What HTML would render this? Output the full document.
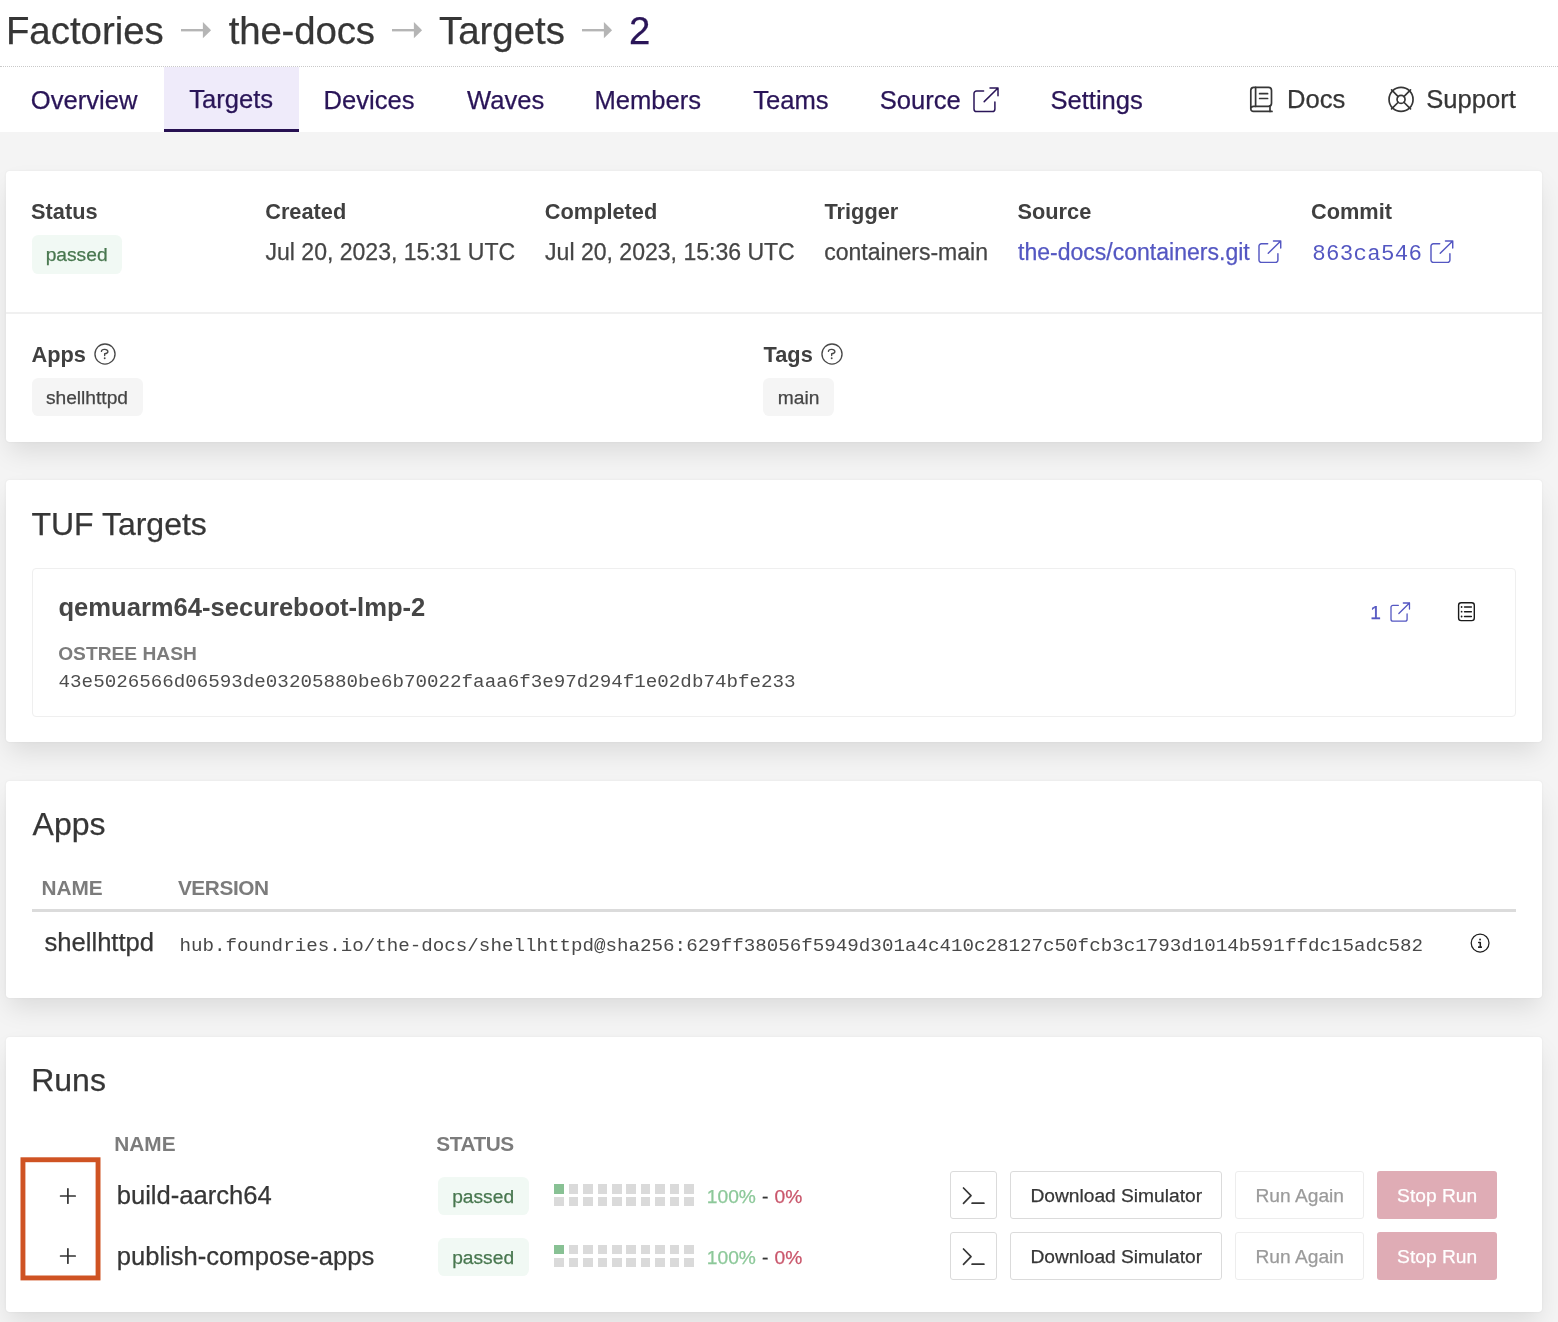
<!DOCTYPE html>
<html><head><meta charset="utf-8"><title>Targets - the-docs</title>
<style>
html,body{margin:0;padding:0}
body{width:1558px;height:1322px;background:#f4f4f4;position:relative;overflow:hidden;font-family:"Liberation Sans", sans-serif}
#w{position:absolute;left:0;top:0;width:1558px;height:1322px;will-change:transform}
#w>*{position:absolute;display:block}
.t{white-space:pre}
.s{font-family:"Liberation Sans", sans-serif;-webkit-text-stroke:0.25px currentColor}
.b{-webkit-text-stroke:0}
.m{font-family:"Liberation Mono", monospace}
</style></head><body><div id="w">
<div style="left:0px;top:0px;width:1558px;height:132px;background:#fff"></div>
<span id="t1" class="t s" style="left:5.90px;top:11.89px;font-size:38.4px;line-height:38.4px;color:#363636;">Factories</span>
<span id="t2" class="t s" style="left:228.70px;top:11.89px;font-size:38.4px;line-height:38.4px;color:#363636;letter-spacing:-0.15px;">the-docs</span>
<span id="t3" class="t s" style="left:439.00px;top:11.89px;font-size:38.4px;line-height:38.4px;color:#363636;">Targets</span>
<span id="t4" class="t s" style="left:629.10px;top:11.89px;font-size:38.4px;line-height:38.4px;color:#2a1558;">2</span>
<svg style="left:180.1px;top:20px" width="34" height="22" fill="none"><path d="M1 10.2 H23" stroke="#b5b5b5" stroke-width="2.4"/><path d="M22.9 2.1 L31.1 10.2 L22.9 18.3 Z" fill="#b5b5b5"/></svg>
<svg style="left:390.5px;top:20px" width="34" height="22" fill="none"><path d="M1 10.2 H23" stroke="#b5b5b5" stroke-width="2.4"/><path d="M22.9 2.1 L31.1 10.2 L22.9 18.3 Z" fill="#b5b5b5"/></svg>
<svg style="left:581.3px;top:20px" width="34" height="22" fill="none"><path d="M1 10.2 H23" stroke="#b5b5b5" stroke-width="2.4"/><path d="M22.9 2.1 L31.1 10.2 L22.9 18.3 Z" fill="#b5b5b5"/></svg>
<div style="left:0px;top:66px;width:1558px;height:0px;border-top:1px dotted #c9c9c9"></div>
<div style="left:164px;top:67px;width:135px;height:65px;background:#efebfa;border-bottom:3.2px solid #271152;box-sizing:border-box"></div>
<span id="t5" class="t s" style="left:30.80px;top:87.83px;font-size:25.6px;line-height:25.6px;color:#2a1558;">Overview</span>
<span id="t6" class="t s" style="left:189.20px;top:86.93px;font-size:25.6px;line-height:25.6px;color:#2a1558;">Targets</span>
<span id="t7" class="t s" style="left:323.50px;top:87.83px;font-size:25.6px;line-height:25.6px;color:#2a1558;">Devices</span>
<span id="t8" class="t s" style="left:467.00px;top:87.83px;font-size:25.6px;line-height:25.6px;color:#2a1558;">Waves</span>
<span id="t9" class="t s" style="left:594.40px;top:87.83px;font-size:25.6px;line-height:25.6px;color:#2a1558;">Members</span>
<span id="t10" class="t s" style="left:753.20px;top:87.83px;font-size:25.6px;line-height:25.6px;color:#2a1558;">Teams</span>
<span id="t11" class="t s" style="left:879.70px;top:87.83px;font-size:25.6px;line-height:25.6px;color:#2a1558;">Source</span>
<svg style="left:972.10px;top:86.05px" width="28.00" height="27.60" fill="none"><g transform="translate(2,2)"><path d="M9.60 3.00 H2.60 A2.60 2.60 0 0 0 0 5.60 V21.00 A2.60 2.60 0 0 0 2.60 23.60 H18.30 A2.60 2.60 0 0 0 20.90 21.00 V14.00 M10.20 13.60 L24.00 0 M16.00 0 H24.00 V7.80" stroke="#2a1558" stroke-width="1.5" stroke-linecap="round" stroke-linejoin="round"/></g></svg>
<span id="t12" class="t s" style="left:1050.40px;top:87.83px;font-size:25.6px;line-height:25.6px;color:#2a1558;">Settings</span>
<span id="t13" class="t s" style="left:1287.00px;top:86.93px;font-size:25.6px;line-height:25.6px;color:#363636;">Docs</span>
<span id="t14" class="t s" style="left:1426.30px;top:86.93px;font-size:25.6px;line-height:25.6px;color:#363636;">Support</span>
<svg style="left:1248px;top:84px" width="28" height="30" viewBox="0 0 28 30" fill="none" ><g stroke="#363636" stroke-width="1.7" stroke-linecap="round" stroke-linejoin="round"><path d="M2.8 25 V6.4 A3 3 0 0 1 5.8 3.4 H20.5 A3 3 0 0 1 23.5 6.4 V19.3 A3 3 0 0 1 20.5 22.3 H5.6 A2.7 2.7 0 0 0 2.8 25 A2.7 2.7 0 0 0 5.6 27.4 H24"/><path d="M7.6 3.4 V22.3"/><path d="M22 22.3 V27.4"/><path d="M11.6 9.7 H19.6 M11.6 14.5 H19.6"/></g></svg>
<svg style="left:1385px;top:83px" width="33" height="33" viewBox="0 0 33 33" fill="none" ><g stroke="#363636" stroke-width="1.7" stroke-linecap="round"><circle cx="16.05" cy="16.4" r="12"/><circle cx="16.05" cy="16.4" r="4"/><path d="M13.2 13.55 L6.6 6.95 M18.9 13.55 L25.5 6.95 M13.2 19.25 L6.6 25.85 M18.9 19.25 L25.5 25.85"/></g></svg>
<div style="left:6px;top:171px;width:1536px;height:270.6px;background:#fff;border-radius:4px;box-shadow:0 12.8px 25.6px -3.2px rgba(10,10,10,.1),0 0 0 1.6px rgba(10,10,10,.02);"></div>
<div style="left:6px;top:480px;width:1536px;height:261.70000000000005px;background:#fff;border-radius:4px;box-shadow:0 12.8px 25.6px -3.2px rgba(10,10,10,.1),0 0 0 1.6px rgba(10,10,10,.02);"></div>
<div style="left:6px;top:781px;width:1536px;height:216.5px;background:#fff;border-radius:4px;box-shadow:0 12.8px 25.6px -3.2px rgba(10,10,10,.1),0 0 0 1.6px rgba(10,10,10,.02);"></div>
<div style="left:6px;top:1037px;width:1536px;height:275px;background:#fff;border-radius:4px;box-shadow:0 12.8px 25.6px -3.2px rgba(10,10,10,.1),0 0 0 1.6px rgba(10,10,10,.02);"></div>
<span id="t15" class="t s b" style="left:31.10px;top:200.58px;font-size:21.76px;line-height:21.76px;color:#404040;font-weight:700;">Status</span>
<span id="t16" class="t s b" style="left:265.20px;top:200.58px;font-size:21.76px;line-height:21.76px;color:#404040;font-weight:700;">Created</span>
<span id="t17" class="t s b" style="left:544.80px;top:200.58px;font-size:21.76px;line-height:21.76px;color:#404040;font-weight:700;">Completed</span>
<span id="t18" class="t s b" style="left:824.50px;top:200.58px;font-size:21.76px;line-height:21.76px;color:#404040;font-weight:700;">Trigger</span>
<span id="t19" class="t s b" style="left:1017.50px;top:200.58px;font-size:21.76px;line-height:21.76px;color:#404040;font-weight:700;">Source</span>
<span id="t20" class="t s b" style="left:1311.00px;top:200.58px;font-size:21.76px;line-height:21.76px;color:#404040;font-weight:700;">Commit</span>
<div style="left:32px;top:234.6px;width:90px;height:39.4px;background:#f1f9f4;border-radius:6.4px"></div>
<span id="t21" class="t s" style="left:45.70px;top:244.75px;font-size:19.2px;line-height:19.2px;color:#48774f;">passed</span>
<span id="t22" class="t s" style="left:265.50px;top:241.30px;font-size:23.04px;line-height:23.04px;color:#454545;">Jul 20, 2023, 15:31 UTC</span>
<span id="t23" class="t s" style="left:545.10px;top:241.30px;font-size:23.04px;line-height:23.04px;color:#454545;">Jul 20, 2023, 15:36 UTC</span>
<span id="t24" class="t s" style="left:824.20px;top:241.30px;font-size:23.04px;line-height:23.04px;color:#454545;">containers-main</span>
<span id="t25" class="t s" style="left:1018.00px;top:241.30px;font-size:23.04px;line-height:23.04px;color:#5457c2;">the-docs/containers.git</span>
<svg style="left:1256.80px;top:239.00px" width="25.72" height="25.36" fill="none"><g transform="translate(2,2)"><path d="M8.69 2.71 H2.35 A2.35 2.35 0 0 0 0 5.07 V19.00 A2.35 2.35 0 0 0 2.35 21.36 H16.56 A2.35 2.35 0 0 0 18.91 19.00 V12.67 M9.23 12.31 L21.72 0 M14.48 0 H21.72 V7.06" stroke="#5457c2" stroke-width="1.45" stroke-linecap="round" stroke-linejoin="round"/></g></svg>
<span id="t26" class="t m" style="left:1312.30px;top:242.93px;font-size:22.4px;line-height:22.4px;color:#5457c2;letter-spacing:0.3px;">863ca546</span>
<svg style="left:1428.80px;top:239.00px" width="25.72" height="25.36" fill="none"><g transform="translate(2,2)"><path d="M8.69 2.71 H2.35 A2.35 2.35 0 0 0 0 5.07 V19.00 A2.35 2.35 0 0 0 2.35 21.36 H16.56 A2.35 2.35 0 0 0 18.91 19.00 V12.67 M9.23 12.31 L21.72 0 M14.48 0 H21.72 V7.06" stroke="#5457c2" stroke-width="1.45" stroke-linecap="round" stroke-linejoin="round"/></g></svg>
<div style="left:6px;top:312px;width:1536px;height:1.6px;background:#f0f0f0"></div>
<span id="t27" class="t s b" style="left:31.50px;top:343.88px;font-size:21.76px;line-height:21.76px;color:#404040;font-weight:700;">Apps</span>
<span id="t28" class="t s b" style="left:763.60px;top:343.88px;font-size:21.76px;line-height:21.76px;color:#404040;font-weight:700;">Tags</span>
<svg style="left:91.93px;top:340.75px" width="26" height="26" fill="none"><g transform="translate(13,13)" stroke="#484848" stroke-width="1.35" stroke-linecap="round" stroke-linejoin="round"><circle cx="0" cy="0" r="10.05"/><path d="M-3.6 -2.6 A3.25 2.1 0 0 1 2.9 -2.4 A3.3 2.15 0 0 1 -0.35 -0.25 V1.6"/><circle cx="-0.3" cy="4.3" r="0.95" fill="#484848" stroke="none"/></g></svg>
<svg style="left:818.65px;top:340.75px" width="26" height="26" fill="none"><g transform="translate(13,13)" stroke="#484848" stroke-width="1.35" stroke-linecap="round" stroke-linejoin="round"><circle cx="0" cy="0" r="10.05"/><path d="M-3.6 -2.6 A3.25 2.1 0 0 1 2.9 -2.4 A3.3 2.15 0 0 1 -0.35 -0.25 V1.6"/><circle cx="-0.3" cy="4.3" r="0.95" fill="#484848" stroke="none"/></g></svg>
<div style="left:32px;top:378px;width:111px;height:37.8px;background:#f5f5f5;border-radius:6.4px"></div>
<span id="t29" class="t s" style="left:45.90px;top:387.85px;font-size:19.2px;line-height:19.2px;color:#454545;">shellhttpd</span>
<div style="left:763px;top:378px;width:71px;height:37.8px;background:#f5f5f5;border-radius:6.4px"></div>
<span id="t30" class="t s" style="left:777.80px;top:387.85px;font-size:19.2px;line-height:19.2px;color:#454545;">main</span>
<span id="t31" class="t s" style="left:31.40px;top:507.91px;font-size:32px;line-height:32px;color:#363636;">TUF Targets</span>
<div style="left:32px;top:568px;width:1484px;height:148.5px;border:1.3px solid #efefef;border-radius:4px;box-sizing:border-box"></div>
<span id="t32" class="t s b" style="left:58.40px;top:594.73px;font-size:25.6px;line-height:25.6px;color:#464646;font-weight:700;">qemuarm64-secureboot-lmp-2</span>
<span id="t33" class="t s b" style="left:58.20px;top:644.25px;font-size:19.2px;line-height:19.2px;color:#7c7c7c;font-weight:700;">OSTREE HASH</span>
<span id="t34" class="t m" style="left:58.60px;top:672.98px;font-size:19.2px;line-height:19.2px;color:#4d4d4d;">43e5026566d06593de03205880be6b70022faaa6f3e97d294f1e02db74bfe233</span>
<span id="t35" class="t s" style="left:1370.30px;top:602.55px;font-size:19.2px;line-height:19.2px;color:#5457c2;">1</span>
<svg style="left:1389.30px;top:601.00px" width="22.48" height="22.17" fill="none"><g transform="translate(2,2)"><path d="M7.39 2.31 H2.00 A2.00 2.00 0 0 0 0 4.31 V16.17 A2.00 2.00 0 0 0 2.00 18.17 H14.09 A2.00 2.00 0 0 0 16.09 16.17 V10.78 M7.85 10.47 L18.48 0 M12.32 0 H18.48 V6.01" stroke="#5457c2" stroke-width="1.3" stroke-linecap="round" stroke-linejoin="round"/></g></svg>
<svg style="left:1455px;top:599px" width="24" height="26" viewBox="0 0 24 26" fill="none" ><g stroke="#1a1a1a" stroke-width="1.4" stroke-linecap="round"><rect x="3.6" y="3.7" width="15.7" height="17.9" rx="2.6"/><path d="M9.5 8 H16.4 M9.5 12.7 H16.4 M9.5 17.5 H16.4"/></g><g fill="#1a1a1a"><circle cx="6.6" cy="8" r="0.9"/><circle cx="6.6" cy="12.7" r="0.9"/><circle cx="6.6" cy="17.5" r="0.9"/></g></svg>
<span id="t36" class="t s" style="left:32.60px;top:807.91px;font-size:32px;line-height:32px;color:#363636;">Apps</span>
<span id="t37" class="t s b" style="left:41.40px;top:877.89px;font-size:20.8px;line-height:20.8px;color:#7c7c7c;font-weight:700;">NAME</span>
<span id="t38" class="t s b" style="left:177.90px;top:877.89px;font-size:20.8px;line-height:20.8px;color:#7c7c7c;font-weight:700;letter-spacing:-0.4px;">VERSION</span>
<div style="left:32px;top:908.8px;width:1484px;height:3px;background:#dbdbdb"></div>
<span id="t39" class="t s" style="left:44.50px;top:930.33px;font-size:25.6px;line-height:25.6px;color:#363636;">shellhttpd</span>
<span id="t40" class="t m" style="left:179.50px;top:936.88px;font-size:19.2px;line-height:19.2px;color:#484848;">hub.foundries.io/the-docs/shellhttpd@sha256:629ff38056f5949d301a4c410c28127c50fcb3c1793d1014b591ffdc15adc582</span>
<svg style="left:1467.1px;top:929.74px" width="27" height="27" viewBox="0 0 27 27" fill="none" ><g stroke="#1f1f1f" stroke-width="1.25" stroke-linejoin="round"><circle cx="13.1" cy="13.1" r="8.9"/><path d="M11.7 12.55 H13.3 V17.3" stroke-width="1.5" stroke-linecap="round"/><path d="M11.0 17.15 H15.0" stroke-width="1.6"/></g><circle cx="13.06" cy="9.5" r="0.95" fill="#1f1f1f"/></svg>
<span id="t41" class="t s" style="left:31.20px;top:1064.21px;font-size:32px;line-height:32px;color:#363636;">Runs</span>
<span id="t42" class="t s b" style="left:114.30px;top:1134.39px;font-size:20.8px;line-height:20.8px;color:#7c7c7c;font-weight:700;">NAME</span>
<span id="t43" class="t s b" style="left:436.30px;top:1133.79px;font-size:20.8px;line-height:20.8px;color:#7c7c7c;font-weight:700;letter-spacing:-0.45px;">STATUS</span>
<svg style="left:15px;top:1150px" width="92" height="138" fill="none"><rect x="7.95" y="9.75" width="75.1" height="118.2" stroke="#cf5323" stroke-width="4.9"/></svg>
<svg style="left:57px;top:1185.10px" width="22" height="22" fill="none"><path d="M3.6 11 H18.2 M10.9 3.8 V18.2" stroke="#333" stroke-width="1.7" stroke-linecap="round"/></svg>
<svg style="left:57px;top:1244.60px" width="22" height="22" fill="none"><path d="M3.6 11 H18.2 M10.9 3.8 V18.2" stroke="#333" stroke-width="1.7" stroke-linecap="round"/></svg>
<span id="t44" class="t s" style="left:116.70px;top:1182.93px;font-size:25.6px;line-height:25.6px;color:#363636;">build-aarch64</span>
<div style="left:438px;top:1177.4px;width:91px;height:37.4px;background:#f1f9f4;border-radius:6.4px"></div>
<span id="t45" class="t s" style="left:452.20px;top:1187.35px;font-size:19.2px;line-height:19.2px;color:#48774f;">passed</span>
<div style="left:554px;top:1184px;width:10px;height:10px;background:#88c194"></div>
<div style="left:569px;top:1184px;width:9px;height:10px;background:#dadada"></div>
<div style="left:583px;top:1184px;width:10px;height:10px;background:#dadada"></div>
<div style="left:598px;top:1184px;width:9px;height:10px;background:#dadada"></div>
<div style="left:612px;top:1184px;width:10px;height:10px;background:#dadada"></div>
<div style="left:626px;top:1184px;width:10px;height:10px;background:#dadada"></div>
<div style="left:641px;top:1184px;width:9px;height:10px;background:#dadada"></div>
<div style="left:655px;top:1184px;width:10px;height:10px;background:#dadada"></div>
<div style="left:670px;top:1184px;width:9px;height:10px;background:#dadada"></div>
<div style="left:684px;top:1184px;width:10px;height:10px;background:#dadada"></div>
<div style="left:554px;top:1197px;width:10px;height:9px;background:#dadada"></div>
<div style="left:569px;top:1197px;width:9px;height:9px;background:#dadada"></div>
<div style="left:583px;top:1197px;width:10px;height:9px;background:#dadada"></div>
<div style="left:598px;top:1197px;width:9px;height:9px;background:#dadada"></div>
<div style="left:612px;top:1197px;width:10px;height:9px;background:#dadada"></div>
<div style="left:626px;top:1197px;width:10px;height:9px;background:#dadada"></div>
<div style="left:641px;top:1197px;width:9px;height:9px;background:#dadada"></div>
<div style="left:655px;top:1197px;width:10px;height:9px;background:#dadada"></div>
<div style="left:670px;top:1197px;width:9px;height:9px;background:#dadada"></div>
<div style="left:684px;top:1197px;width:10px;height:9px;background:#dadada"></div>
<span id="t46" class="t s" style="left:706.80px;top:1187.05px;font-size:19.2px;line-height:19.2px;color:#8cc899;">100%</span>
<span id="t47" class="t s" style="left:762.00px;top:1187.05px;font-size:19.2px;line-height:19.2px;color:#363636;">-</span>
<span id="t48" class="t s" style="left:774.50px;top:1187.05px;font-size:19.2px;line-height:19.2px;color:#c9566b;">0%</span>
<div style="left:950px;top:1171.1px;width:47px;height:47.6px;border:1.4px solid #dbdbdb;border-radius:3px;box-sizing:border-box;background:#fff"></div>
<svg style="left:958px;top:1182.00px" width="32" height="28" fill="none"><path d="M5.5 6 L13 13.7 L5.5 21.4 M14.1 21.2 H25.9" stroke="#363636" stroke-width="1.7" stroke-linecap="round" stroke-linejoin="round"/></svg>
<div style="left:1010.2px;top:1171.1px;width:211.7px;height:47.6px;border:1.4px solid #dbdbdb;border-radius:3px;box-sizing:border-box;background:#fff"></div>
<span id="t49" class="t s" style="left:1030.40px;top:1185.85px;font-size:19.2px;line-height:19.2px;color:#363636;">Download Simulator</span>
<div style="left:1235.2px;top:1171.1px;width:128.4px;height:47.6px;border:1.4px solid #ededed;border-radius:3px;box-sizing:border-box;background:#fff"></div>
<span id="t50" class="t s" style="left:1255.50px;top:1185.85px;font-size:19.2px;line-height:19.2px;color:#9b9b9b;">Run Again</span>
<div style="left:1377.1px;top:1171.1px;width:120px;height:47.6px;background:#dfacb5;border-radius:3px"></div>
<span id="t51" class="t s" style="left:1397.10px;top:1185.85px;font-size:19.2px;line-height:19.2px;color:#fff;">Stop Run</span>
<span id="t52" class="t s" style="left:116.70px;top:1244.03px;font-size:25.6px;line-height:25.6px;color:#363636;">publish-compose-apps</span>
<div style="left:438px;top:1238.2px;width:91px;height:37.4px;background:#f1f9f4;border-radius:6.4px"></div>
<span id="t53" class="t s" style="left:452.20px;top:1247.95px;font-size:19.2px;line-height:19.2px;color:#48774f;">passed</span>
<div style="left:554px;top:1245px;width:10px;height:9px;background:#88c194"></div>
<div style="left:569px;top:1245px;width:9px;height:9px;background:#dadada"></div>
<div style="left:583px;top:1245px;width:10px;height:9px;background:#dadada"></div>
<div style="left:598px;top:1245px;width:9px;height:9px;background:#dadada"></div>
<div style="left:612px;top:1245px;width:10px;height:9px;background:#dadada"></div>
<div style="left:626px;top:1245px;width:10px;height:9px;background:#dadada"></div>
<div style="left:641px;top:1245px;width:9px;height:9px;background:#dadada"></div>
<div style="left:655px;top:1245px;width:10px;height:9px;background:#dadada"></div>
<div style="left:670px;top:1245px;width:9px;height:9px;background:#dadada"></div>
<div style="left:684px;top:1245px;width:10px;height:9px;background:#dadada"></div>
<div style="left:554px;top:1258px;width:10px;height:9px;background:#dadada"></div>
<div style="left:569px;top:1258px;width:9px;height:9px;background:#dadada"></div>
<div style="left:583px;top:1258px;width:10px;height:9px;background:#dadada"></div>
<div style="left:598px;top:1258px;width:9px;height:9px;background:#dadada"></div>
<div style="left:612px;top:1258px;width:10px;height:9px;background:#dadada"></div>
<div style="left:626px;top:1258px;width:10px;height:9px;background:#dadada"></div>
<div style="left:641px;top:1258px;width:9px;height:9px;background:#dadada"></div>
<div style="left:655px;top:1258px;width:10px;height:9px;background:#dadada"></div>
<div style="left:670px;top:1258px;width:9px;height:9px;background:#dadada"></div>
<div style="left:684px;top:1258px;width:10px;height:9px;background:#dadada"></div>
<span id="t54" class="t s" style="left:706.80px;top:1247.65px;font-size:19.2px;line-height:19.2px;color:#8cc899;">100%</span>
<span id="t55" class="t s" style="left:762.00px;top:1247.65px;font-size:19.2px;line-height:19.2px;color:#363636;">-</span>
<span id="t56" class="t s" style="left:774.50px;top:1247.65px;font-size:19.2px;line-height:19.2px;color:#c9566b;">0%</span>
<div style="left:950px;top:1232.2px;width:47px;height:47.6px;border:1.4px solid #dbdbdb;border-radius:3px;box-sizing:border-box;background:#fff"></div>
<svg style="left:958px;top:1243.10px" width="32" height="28" fill="none"><path d="M5.5 6 L13 13.7 L5.5 21.4 M14.1 21.2 H25.9" stroke="#363636" stroke-width="1.7" stroke-linecap="round" stroke-linejoin="round"/></svg>
<div style="left:1010.2px;top:1232.2px;width:211.7px;height:47.6px;border:1.4px solid #dbdbdb;border-radius:3px;box-sizing:border-box;background:#fff"></div>
<span id="t57" class="t s" style="left:1030.40px;top:1246.75px;font-size:19.2px;line-height:19.2px;color:#363636;">Download Simulator</span>
<div style="left:1235.2px;top:1232.2px;width:128.4px;height:47.6px;border:1.4px solid #ededed;border-radius:3px;box-sizing:border-box;background:#fff"></div>
<span id="t58" class="t s" style="left:1255.50px;top:1246.75px;font-size:19.2px;line-height:19.2px;color:#9b9b9b;">Run Again</span>
<div style="left:1377.1px;top:1232.2px;width:120px;height:47.6px;background:#dfacb5;border-radius:3px"></div>
<span id="t59" class="t s" style="left:1397.10px;top:1246.75px;font-size:19.2px;line-height:19.2px;color:#fff;">Stop Run</span>
</div></body></html>
